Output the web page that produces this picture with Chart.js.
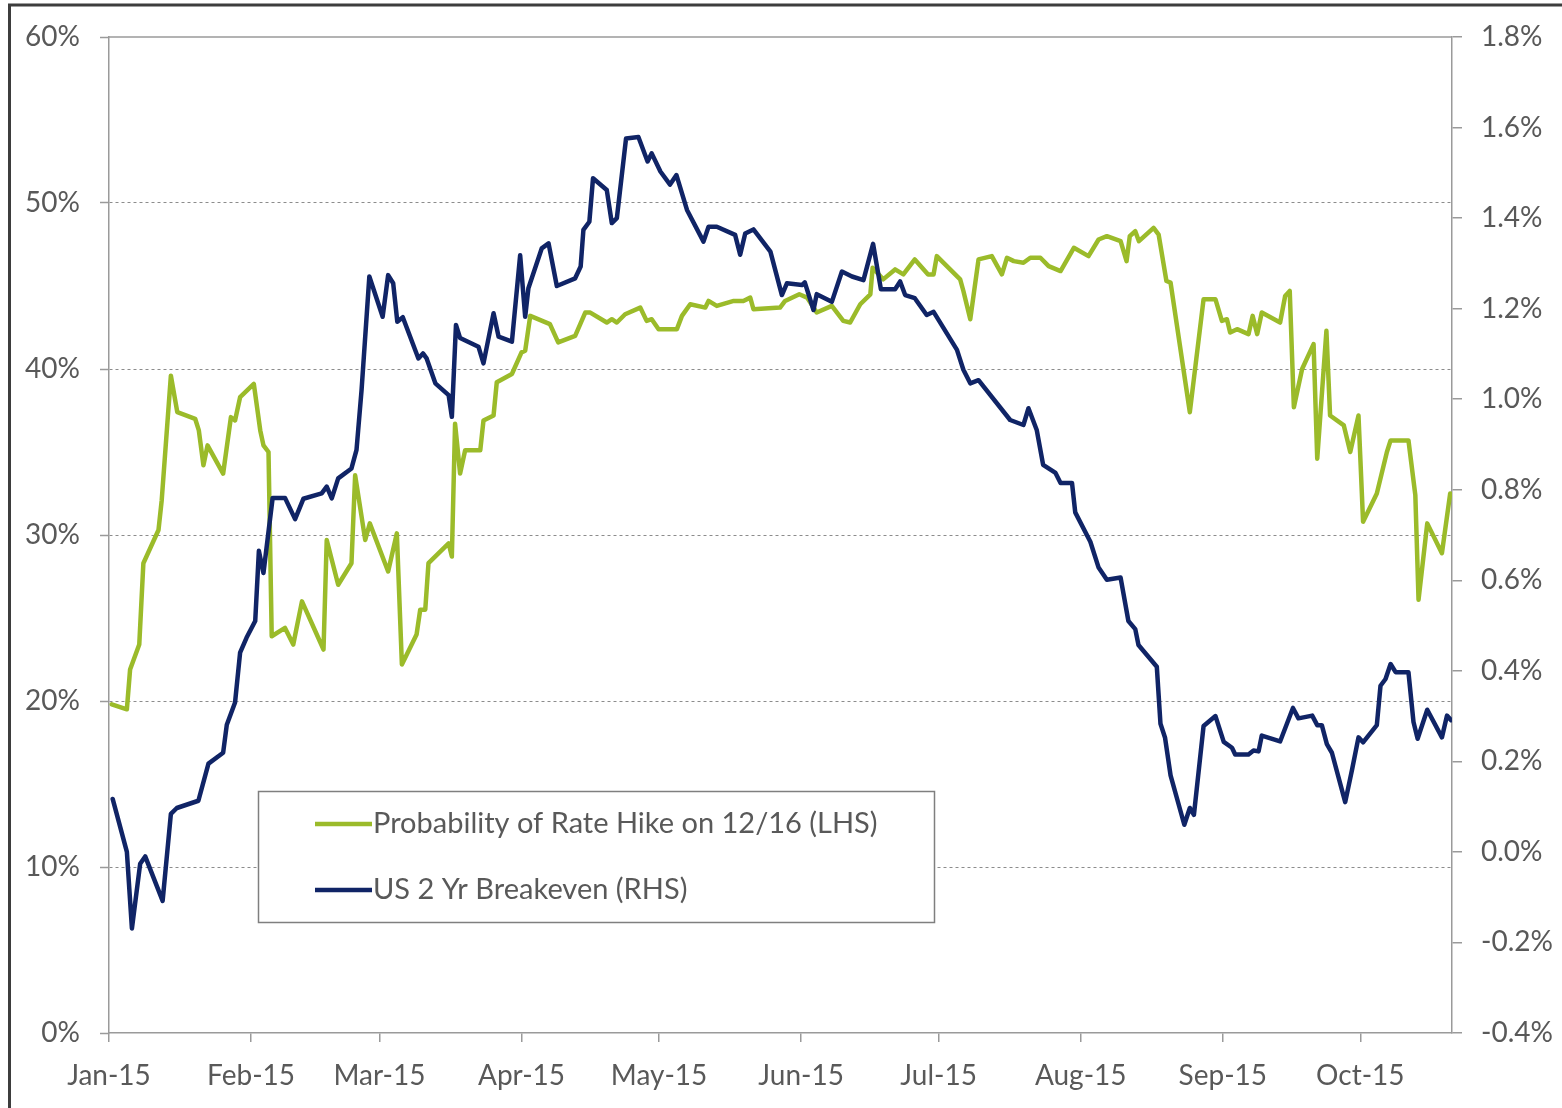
<!DOCTYPE html>
<html>
<head>
<meta charset="utf-8">
<script src="https://cdn.jsdelivr.net/npm/chart.js@4.4.1/dist/chart.umd.min.js"></script>
<style>
    html, body { margin: 0; padding: 0; background: #fff; }
    #wrap { position: relative; width: 1562px; height: 1108px; }
</style>
</head>
<body>
<div id="wrap">
    <canvas id="rate-hike-chart" width="1562" height="1108"></canvas>
</div>
<script>
// x positions are days since 1 Jan 2015
const monthDays = [0, 31, 59, 90, 120, 151, 181, 212, 243, 273];
const monthLabels = ['Jan-15', 'Feb-15', 'Mar-15', 'Apr-15', 'May-15', 'Jun-15', 'Jul-15', 'Aug-15', 'Sep-15', 'Oct-15'];

// Probability of Rate Hike on 12/16 (LHS), %
const hikeDays = [0.6, 3.9, 4.6, 6.6, 7.5, 10.8, 11.5, 13.5, 14.9, 18.8, 19.6, 20.6, 21.5, 24.9, 26.6, 27.5, 28.6, 31.6, 33.0, 33.7,
    34.8, 35.5, 38.4, 40.2, 42.1, 46.8, 47.5, 50.0, 52.9, 53.7, 55.9, 56.9, 60.9, 62.8, 63.9, 67.1, 67.9, 69.0, 69.7, 74.1,
    74.8, 75.5, 76.6, 77.7, 81.0, 81.7, 83.9, 84.6, 87.9, 90.0, 90.8, 91.9, 96.2, 98.0, 101.7, 103.9, 105.0, 108.6, 109.7, 110.8,
    112.6, 115.9, 117.3, 118.4, 119.9, 123.9, 125.0, 126.8, 130.1, 130.8, 132.6, 136.3, 138.4, 139.9, 140.6, 146.4, 147.5, 150.6, 152.3, 154.4,
    157.7, 160.2, 161.7, 163.9, 166.1, 166.6, 168.9, 171.5, 173.3, 175.8, 178.7, 179.9, 180.6, 185.7, 186.4, 187.9, 189.7, 192.6, 194.8, 195.9,
    197.4, 199.5, 201.0, 203.2, 205.0, 207.6, 210.5, 213.7, 215.9, 217.7, 220.7, 222.0, 222.7, 223.9, 224.7, 227.9, 229.0, 230.7, 231.6, 235.8,
    238.8, 241.4, 242.8, 243.9, 244.6, 246.1, 248.6, 249.5, 250.5, 251.5, 255.5, 256.6, 257.6, 258.5, 260.3, 262.8, 263.6, 265.6, 266.4, 269.4,
    270.8, 272.6, 273.6, 276.6, 278.8, 279.6, 283.5, 285.0, 285.7, 287.6, 290.8, 292.6];
const hikeValues = [19.8, 19.5, 21.9, 23.4, 28.3, 30.3, 32.1, 39.6, 37.4, 37.0, 36.3, 34.2, 35.4, 33.7, 37.1, 36.9, 38.3, 39.1, 36.3, 35.4,
    35.0, 23.9, 24.4, 23.4, 26.0, 23.1, 29.7, 27.0, 28.3, 33.6, 29.7, 30.7, 27.8, 30.1, 22.2, 24.0, 25.5, 25.5, 28.3, 29.5,
    28.7, 36.7, 33.7, 35.1, 35.1, 36.9, 37.2, 39.2, 39.7, 41.0, 41.1, 43.2, 42.7, 41.6, 42.0, 43.4, 43.4, 42.8, 43.0, 42.8,
    43.3, 43.7, 42.9, 43.0, 42.4, 42.4, 43.2, 43.9, 43.7, 44.1, 43.8, 44.1, 44.1, 44.3, 43.6, 43.7, 44.1, 44.5, 44.3, 43.4,
    43.8, 42.9, 42.8, 43.9, 44.5, 46.1, 45.4, 46.0, 45.7, 46.6, 45.7, 45.7, 46.8, 45.4, 44.7, 43.0, 46.6, 46.8, 45.7, 46.7,
    46.5, 46.4, 46.7, 46.7, 46.2, 45.9, 47.3, 46.8, 47.8, 48.0, 47.7, 46.5, 48.0, 48.3, 47.7, 48.5, 48.1, 45.3, 45.2, 37.4,
    44.2, 44.2, 42.9, 43.0, 42.2, 42.4, 42.1, 43.2, 42.1, 43.4, 42.8, 44.4, 44.7, 37.7, 40.0, 41.5, 34.6, 42.3, 37.2, 36.6,
    35.0, 37.2, 30.8, 32.5, 35.0, 35.7, 35.7, 32.4, 26.1, 30.7, 28.9, 32.5];

// US 2 Yr Breakeven (RHS), %
const beDays = [0.8, 3.9, 5.0, 6.8, 7.9, 11.7, 13.5, 14.8, 19.5, 21.7, 24.9, 25.7, 27.5, 28.6, 30.0, 31.9, 32.7, 33.7, 35.7, 38.4,
    40.6, 42.4, 46.4, 47.5, 48.6, 50.0, 52.9, 54.0, 55.1, 56.8, 59.7, 60.9, 62.0, 62.9, 64.1, 67.5, 68.5, 69.3, 71.2, 74.1,
    74.8, 75.7, 76.6, 80.6, 81.7, 83.9, 85.0, 87.9, 89.7, 90.8, 91.5, 94.4, 95.9, 97.7, 101.7, 102.9, 103.5, 104.8, 105.6, 108.6,
    109.7, 110.8, 112.8, 115.5, 117.5, 118.4, 120.3, 122.4, 123.8, 126.1, 129.7, 130.8, 132.6, 136.6, 137.7, 138.8, 140.6, 144.3, 146.8, 147.9,
    151.2, 151.8, 153.7, 154.4, 157.7, 159.9, 162.1, 164.6, 166.7, 168.4, 171.5, 172.6, 173.7, 175.8, 178.4, 179.9, 185.0, 186.4, 187.9, 189.7,
    196.6, 199.5, 200.6, 202.4, 203.8, 206.5, 207.6, 210.1, 210.8, 214.1, 215.9, 217.7, 220.7, 222.4, 223.9, 224.6, 228.6, 229.4, 230.4, 231.6,
    234.6, 235.8, 236.7, 238.8, 241.4, 243.2, 245.0, 245.7, 248.6, 249.7, 250.8, 251.5, 255.5, 258.3, 259.5, 262.5, 263.6, 264.6, 265.7, 266.8,
    269.7, 271.2, 272.6, 273.6, 276.6, 277.4, 278.5, 279.6, 280.7, 283.5, 284.6, 285.5, 287.6, 290.8, 291.9, 292.8];
const beValues = [0.117, 0.0, -0.169, -0.026, -0.010, -0.108, 0.084, 0.097, 0.113, 0.195, 0.219, 0.281, 0.330, 0.440, 0.473, 0.510, 0.665, 0.616, 0.782, 0.782,
    0.735, 0.780, 0.792, 0.807, 0.781, 0.825, 0.847, 0.888, 1.020, 1.271, 1.182, 1.274, 1.256, 1.171, 1.181, 1.090, 1.101, 1.090, 1.035, 1.009,
    0.961, 1.164, 1.135, 1.116, 1.079, 1.190, 1.138, 1.127, 1.318, 1.182, 1.245, 1.333, 1.344, 1.250, 1.267, 1.293, 1.374, 1.392, 1.488, 1.462,
    1.389, 1.400, 1.576, 1.579, 1.525, 1.543, 1.503, 1.474, 1.495, 1.418, 1.348, 1.381, 1.381, 1.363, 1.319, 1.366, 1.375, 1.326, 1.230, 1.256,
    1.252, 1.258, 1.197, 1.232, 1.215, 1.282, 1.271, 1.263, 1.343, 1.243, 1.243, 1.260, 1.230, 1.223, 1.186, 1.193, 1.109, 1.065, 1.035, 1.042,
    0.954, 0.943, 0.980, 0.932, 0.855, 0.837, 0.815, 0.815, 0.750, 0.685, 0.628, 0.601, 0.606, 0.510, 0.492, 0.457, 0.409, 0.283, 0.252, 0.169,
    0.060, 0.097, 0.082, 0.278, 0.300, 0.243, 0.230, 0.215, 0.215, 0.224, 0.222, 0.257, 0.244, 0.318, 0.295, 0.301, 0.280, 0.280, 0.238, 0.219,
    0.110, 0.182, 0.253, 0.242, 0.280, 0.367, 0.382, 0.415, 0.397, 0.397, 0.287, 0.250, 0.314, 0.253, 0.301, 0.291];

const GREEN = '#9bbb2a';
const NAVY = '#102466';
const AXIS = '#9a9a9a';
const TEXT = '#595959';

Chart.defaults.font.family = 'Lato, "Open Sans", sans-serif';
Chart.defaults.font.size = 28;
Chart.defaults.color = TEXT;

// outer frame, top plot line and the boxed legend
const framePlugin = {
    id: 'frame',
    beforeDatasetsDraw(chart) {
        const {ctx, chartArea} = chart;
        ctx.save();
        ctx.strokeStyle = AXIS;
        ctx.lineWidth = 1.5;
        ctx.beginPath();
        ctx.moveTo(chartArea.left, chartArea.top);
        ctx.lineTo(chartArea.right, chartArea.top);
        ctx.stroke();
        ctx.restore();
    },
    afterDraw(chart) {
        const {ctx} = chart;
        ctx.save();
        ctx.strokeStyle = '#3d3d3d';
        ctx.lineWidth = 3;
        ctx.beginPath();
        ctx.moveTo(9.5, 1108);
        ctx.lineTo(9.5, 5);
        ctx.lineTo(1562, 5);
        ctx.stroke();

        // legend box
        ctx.fillStyle = '#ffffff';
        ctx.fillRect(258, 791, 676, 131);
        ctx.strokeStyle = '#7f7f7f';
        ctx.lineWidth = 1.5;
        ctx.strokeRect(258.5, 791.5, 676, 131);
        ctx.font = '29px Lato, "Open Sans", sans-serif';
        ctx.textBaseline = 'middle';
        ctx.fillStyle = TEXT;
        chart.data.datasets.forEach((ds, i) => {
            const y = 824 + i * 66;
            ctx.strokeStyle = ds.borderColor;
            ctx.lineWidth = 4.5;
            ctx.beginPath();
            ctx.moveTo(315, y);
            ctx.lineTo(372, y);
            ctx.stroke();
            ctx.fillText(ds.label, 373, y);
        });
        ctx.restore();
    }
};

const data = {
    datasets: [
        {
            label: 'Probability of Rate Hike on 12/16 (LHS)',
            data: hikeDays.map((d, i) => ({x: d, y: hikeValues[i]})),
            borderColor: GREEN,
            borderWidth: 4.5,
            yAxisID: 'y',
            order: 1
        },
        {
            label: 'US 2 Yr Breakeven (RHS)',
            data: beDays.map((d, i) => ({x: d, y: beValues[i]})),
            borderColor: NAVY,
            borderWidth: 4.5,
            yAxisID: 'y1',
            order: 0
        }
    ]
};

const config = {
    type: 'line',
    data: data,
    options: {
        responsive: false,
        animation: false,
        layout: {padding: {top: 37, left: 0, right: 0, bottom: 0}},
        elements: {
            line: {tension: 0, borderJoinStyle: 'round', borderCapStyle: 'round'},
            point: {radius: 0}
        },
        plugins: {
            legend: {display: false},
            tooltip: {enabled: false}
        },
        scales: {
            x: {
                type: 'linear',
                min: 0,
                max: 293,
                afterBuildTicks: (scale) => {
                    scale.ticks = monthDays.map(v => ({value: v}));
                },
                afterFit: (scale) => { scale.height = 75; },
                ticks: {
                    autoSkip: false,
                    maxRotation: 0,
                    padding: 17,
                    callback: (value) => monthLabels[monthDays.indexOf(value)]
                },
                grid: {drawOnChartArea: false, tickLength: 9, tickColor: AXIS, lineWidth: 1.5},
                border: {color: AXIS, width: 1.5}
            },
            y: {
                position: 'left',
                min: 0,
                max: 60,
                afterFit: (scale) => { scale.width = 109; },
                ticks: {stepSize: 10, padding: 20, callback: (v) => v + '%'},
                grid: {
                    color: (c) => (c.tick && (c.tick.value === 0 || c.tick.value === 60)) ? 'rgba(0,0,0,0)' : '#8c8c8c',
                    lineWidth: 1,
                    tickLength: 9,
                    tickColor: AXIS,
                    tickWidth: 1.5
                },
                border: {color: AXIS, width: 1.5, dash: [3, 3]}
            },
            y1: {
                position: 'right',
                min: -0.4,
                max: 1.8,
                afterFit: (scale) => { scale.width = 110; },
                ticks: {stepSize: 0.2, padding: 19, callback: (v) => v.toFixed(1) + '%'},
                grid: {drawOnChartArea: false, tickLength: 10, tickColor: AXIS, lineWidth: 1.5},
                border: {color: AXIS, width: 1.5}
            }
        }
    },
    plugins: [framePlugin]
};

const ctx = document.getElementById('rate-hike-chart').getContext('2d');
window.rateHikeChart = new Chart(ctx, config);
</script>
</body>
</html>
